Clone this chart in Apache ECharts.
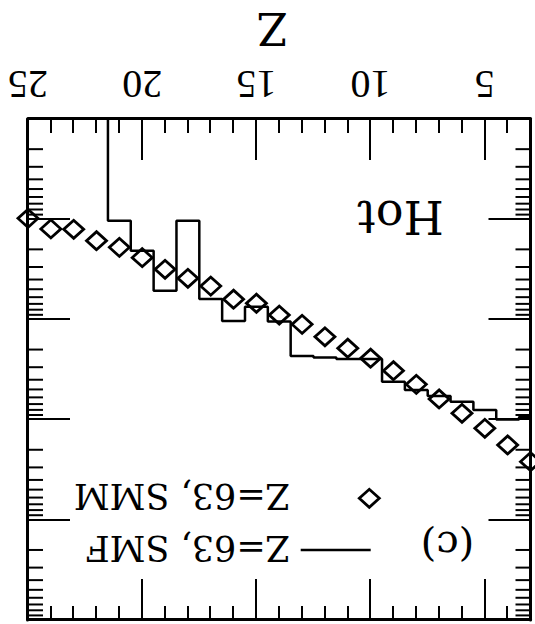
<!DOCTYPE html>
<html>
<head>
<meta charset="utf-8">
<script src="https://cdn.jsdelivr.net/npm/echarts@6/dist/echarts.min.js"></script>
<style>
  html, body { margin: 0; padding: 0; background: #fff; overflow: hidden; }
  /* the figure is printed upside down: draw it normally, then turn the page element */
  #chart { width: 535px; height: 624px; transform: rotate(180deg); }
</style>
</head>
<body>
<div id="chart"></div>
<script>
// SMM: charge distribution of hot fragments (diamonds)
const smmZ = [25, 24, 23, 22, 21, 20, 19, 18, 17, 16, 15, 14, 13, 12, 11, 10, 9, 8, 7, 6, 5, 4, 3];
const smmYield = [9.8e-5, 1.25e-4, 1.26e-4, 1.64e-4, 1.91e-4, 2.42e-4, 3.16e-4, 3.89e-4, 4.65e-4,
                  6.29e-4, 6.9e-4, 9.04e-4, 1.12e-3, 1.49e-3, 1.94e-3, 2.44e-3, 3.25e-3, 4.45e-3,
                  6.22e-3, 8.65e-3, 1.22e-2, 1.79e-2, 2.63e-2];

// SMF: histogram, one bin per charge
const smfZ = [21, 20, 19, 18, 17, 16, 15, 14, 13, 12, 11, 10, 9, 8, 7, 6, 5, 4, 3];
const smfYield = [1.035e-4, 2.06e-4, 5.18e-4, 1.035e-4, 6.25e-4, 1.04e-3, 7.46e-4, 1.05e-3, 2.32e-3,
                  2.40e-3, 2.48e-3, 2.48e-3, 4.19e-3, 5.07e-3, 5.8e-3, 6.62e-3, 8.0e-3, 9.97e-3, 9.4e-3];

const xTickLabels = ['5', '10', '15', '20', '25'];
const zMin = 3, zMax = 25;
const yMin = 1e-5, yMax = 1;

// histogram outline: bin edges at half-integer charge, dropping off below the axis at the top end
const smfOutline = [[smfZ[0] + 0.5, 1e-9]];
smfZ.forEach((z, i) => {
  smfOutline.push([z + 0.5, smfYield[i]], [z - 0.5, smfYield[i]]);
});

// log minor ticks 2..9 within each decade
const minorY = [];
for (let e = Math.log10(yMin); e < Math.log10(yMax); e++) {
  for (let m = 2; m <= 9; m++) minorY.push([zMin, m * Math.pow(10, e)]);
}

const black = '#000';

function xAxisDef(position, major) {
  return {
    type: 'value', min: zMin, max: zMax, position: position,
    interval: major ? undefined : 1,
    splitNumber: 5,
    axisLine: { show: major, onZero: false, lineStyle: { color: black, width: 3 } },
    axisTick: { show: true, inside: true, length: major ? 41 : 14, lineStyle: { color: black, width: 2 } },
    axisLabel: (major && position === 'bottom') ? {
      show: true, margin: 15, color: black, fontFamily: 'Liberation Serif', fontSize: 40,
      formatter: v => xTickLabels.includes(String(v)) ? String(v) : ''
    } : { show: false },
    splitLine: { show: false }
  };
}

function yAxisDef(position) {
  return {
    type: 'log', logBase: 10, min: yMin, max: yMax, position: position,
    axisLine: { show: true, onZero: false, lineStyle: { color: black, width: 3 } },
    axisTick: { show: true, inside: true, length: 42, lineStyle: { color: black, width: 2 } },
    axisLabel: { show: false },
    splitLine: { show: false }
  };
}

const chart = echarts.init(document.getElementById('chart'), null, { renderer: 'svg' });
chart.setOption({
  animation: false,
  backgroundColor: '#fff',
  grid: { left: 4.5, right: 28, top: 4, bottom: 119, containLabel: false },
  xAxis: [xAxisDef('bottom', true), xAxisDef('bottom', false), xAxisDef('top', true), xAxisDef('top', false)],
  yAxis: [yAxisDef('left'), yAxisDef('right')],
  series: [
    {
      name: 'minor ticks', type: 'custom', xAxisIndex: 0, yAxisIndex: 0, silent: true,
      data: minorY,
      renderItem: (params, api) => {
        const cs = params.coordSys;
        const y = api.coord([api.value(0), api.value(1)])[1];
        const st = { stroke: black, lineWidth: 2 };
        return {
          type: 'group',
          children: [
            { type: 'line', shape: { x1: cs.x, y1: y, x2: cs.x + 15, y2: y }, style: st },
            { type: 'line', shape: { x1: cs.x + cs.width - 15, y1: y, x2: cs.x + cs.width, y2: y }, style: st }
          ]
        };
      }
    },
    {
      name: 'Z=63, SMF', type: 'line', xAxisIndex: 0, yAxisIndex: 0,
      data: smfOutline, symbol: 'none', clip: true,
      lineStyle: { color: black, width: 2.5 }
    },
    {
      name: 'Z=63, SMM', type: 'scatter', xAxisIndex: 0, yAxisIndex: 0,
      data: smmZ.map((z, i) => [z, smmYield[i]]),
      symbol: 'diamond', symbolSize: [20, 18],
      itemStyle: { color: 'rgba(0,0,0,0)', borderColor: black, borderWidth: 2.8, opacity: 1 }
    }
  ],
  graphic: [
    { type: 'text', x: 262.5, y: 596,
      style: { text: 'Z', fill: black, font: '44px "DejaVu Serif"', textAlign: 'center', textVerticalAlign: 'middle' } },
    { type: 'text', x: 134.5, y: 407,
      style: { text: 'Hot', fill: black, font: '46px "DejaVu Serif"', textAlign: 'center', textVerticalAlign: 'middle' } },
    { type: 'text', x: 87.5, y: 78,
      style: { text: '(c)', fill: black, font: '40px "DejaVu Serif"', textAlign: 'center', textVerticalAlign: 'middle' } },
    { type: 'line', shape: { x1: 164.3, y1: 74, x2: 234.3, y2: 74 }, style: { stroke: black, lineWidth: 2.5 } },
    { type: 'text', x: 245, y: 76.5,
      style: { text: 'Z=63, SMF', fill: black, font: '35px "DejaVu Serif"', textAlign: 'left', textVerticalAlign: 'middle' } },
    { type: 'polygon', shape: { points: [[155.7, 125.7], [165.7, 116.7], [175.7, 125.7], [165.7, 134.7]] },
      style: { fill: 'none', stroke: black, lineWidth: 2.8 } },
    { type: 'text', x: 245, y: 128.5,
      style: { text: 'Z=63, SMM', fill: black, font: '35px "DejaVu Serif"', textAlign: 'left', textVerticalAlign: 'middle' } }
  ]
});
</script>
</body>
</html>
